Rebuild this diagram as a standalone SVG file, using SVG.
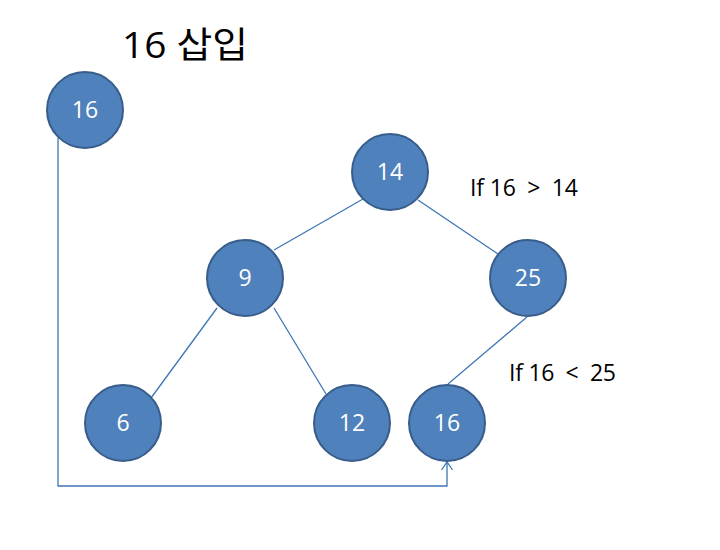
<svg xmlns="http://www.w3.org/2000/svg" width="720" height="550" viewBox="0 0 720 550">
<defs>
<style>
.node{fill:#4F81BD;stroke:#385D8A;stroke-width:2}
.nl{fill:#FFFFFF;font-family:"Open Sans","Noto Sans CJK KR",sans-serif;font-size:23px;text-anchor:middle}
.edge{stroke:#3F76B5;stroke-width:1.3;fill:none}
.lbl{fill:#000;font-family:"Open Sans","Noto Sans CJK KR",sans-serif;font-size:23px}
</style>
<marker id="arr" markerWidth="14" markerHeight="14" refX="9" refY="7" orient="auto" markerUnits="userSpaceOnUse" viewBox="0 0 14 14">
<path d="M1,1.5 L9,7 L1,12.5" fill="none" stroke="#3F76B5" stroke-width="1.3"/>
</marker>
</defs>
<rect width="720" height="550" fill="#FFFFFF"/>
<text x="122" y="58" textLength="126" lengthAdjust="spacingAndGlyphs" style="fill:#000;font-family:'Open Sans','Noto Sans CJK KR',sans-serif;font-size:36px">16 삽입</text>
<g id="connectors">
<line class="edge" x1="363" y1="199" x2="274" y2="250"/>
<line class="edge" x1="418" y1="200" x2="498" y2="254"/>
<line class="edge" x1="217" y1="308" x2="151" y2="398"/>
<line class="edge" x1="274" y1="308" x2="326" y2="394"/>
<line class="edge" x1="527" y1="317" x2="448" y2="384"/>
<path class="edge" d="M58,138 L58,486 L447,486 L447,462" marker-end="url(#arr)"/>
</g>
<g id="n16top"><circle class="node" cx="85" cy="110" r="38"/><text class="nl" x="85" y="118">16</text></g>
<g id="n14"><circle class="node" cx="390" cy="172" r="38"/><text class="nl" x="390" y="180">14</text></g>
<g id="n9"><circle class="node" cx="245" cy="278" r="38"/><text class="nl" x="245" y="286">9</text></g>
<g id="n25"><circle class="node" cx="528" cy="278" r="38"/><text class="nl" x="528" y="286">25</text></g>
<g id="n6"><circle class="node" cx="123" cy="423" r="38"/><text class="nl" x="123" y="431">6</text></g>
<g id="n12"><circle class="node" cx="352" cy="423" r="38"/><text class="nl" x="352" y="431">12</text></g>
<g id="n16"><circle class="node" cx="447" cy="423" r="38"/><text class="nl" x="447" y="431">16</text></g>
<text class="lbl" x="470" y="196" textLength="108" lengthAdjust="spacing" xml:space="preserve">If 16  &gt;  14</text>
<text class="lbl" x="509" y="381" textLength="107" lengthAdjust="spacing" xml:space="preserve">If 16  &lt;  25</text>
</svg>
